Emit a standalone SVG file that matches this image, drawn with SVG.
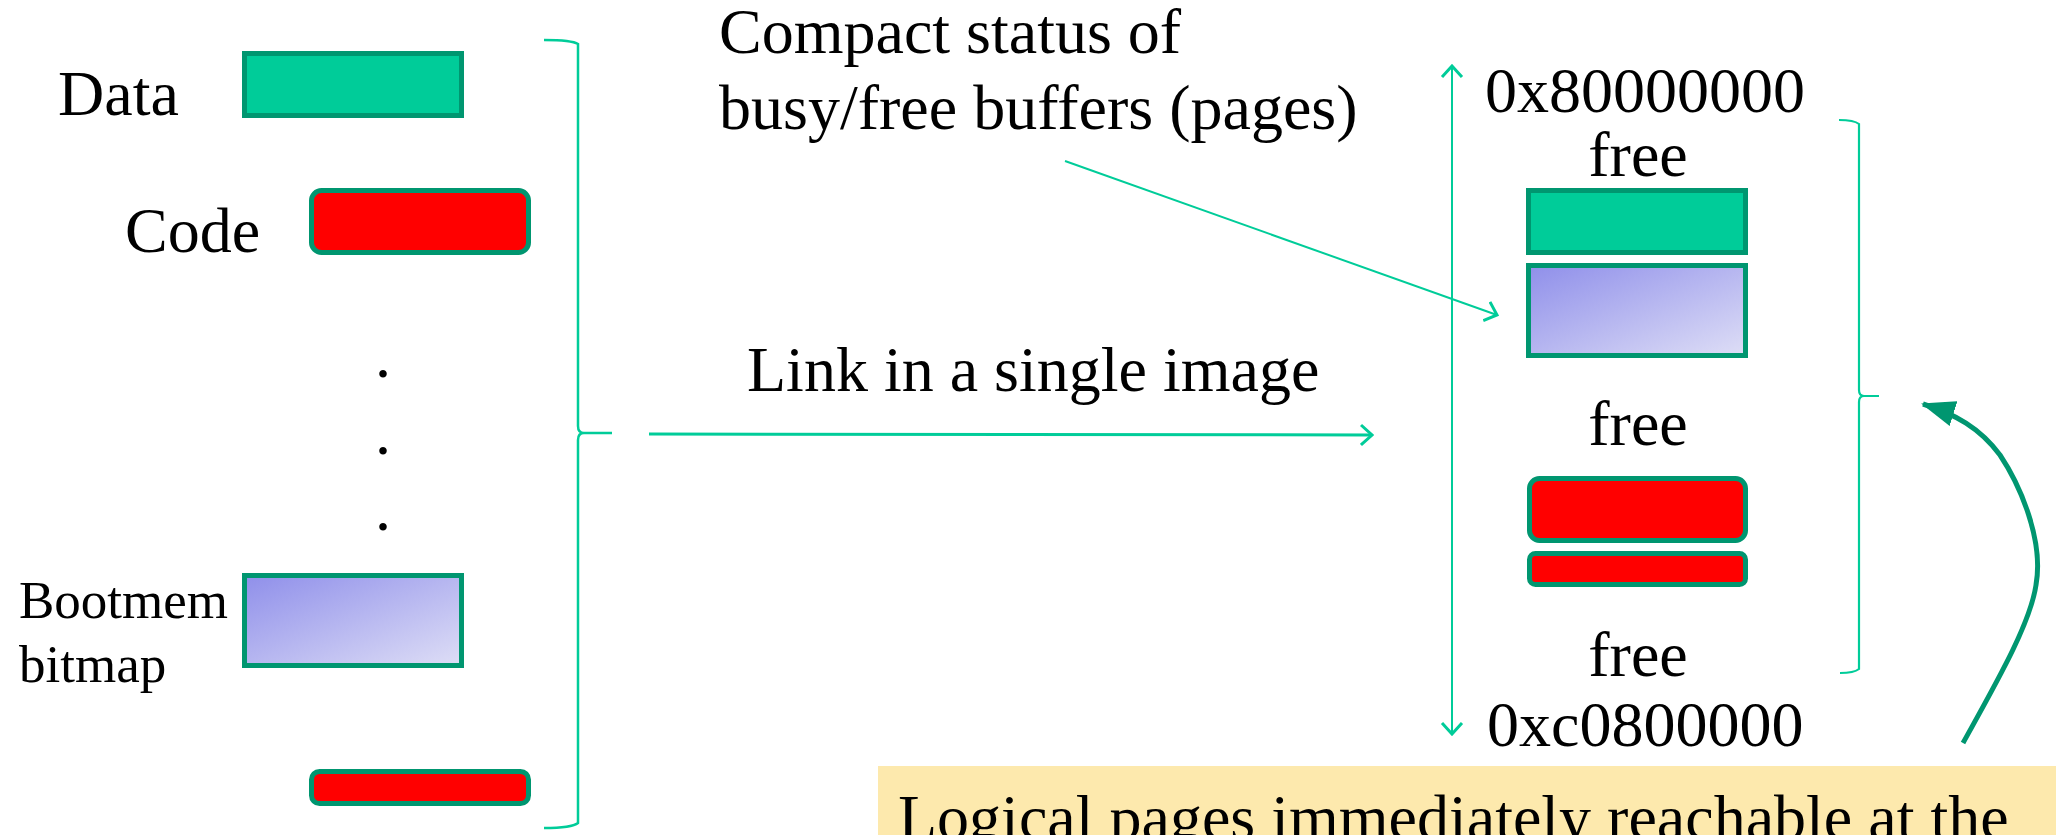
<svg xmlns="http://www.w3.org/2000/svg" width="2056" height="835" viewBox="0 0 2056 835">
  <defs>
    <linearGradient id="bm" x1="0" y1="0" x2="1" y2="1">
      <stop offset="0" stop-color="#8f8fea"/>
      <stop offset="1" stop-color="#dedef6"/>
    </linearGradient>
    <marker id="chev" viewBox="-12 -12 14 24" markerWidth="14" markerHeight="24" refX="0" refY="0" orient="auto-start-reverse" markerUnits="userSpaceOnUse">
      <path d="M-11,-10 L0,0 L-11,10" fill="none" stroke="#00cc99" stroke-width="3"/>
    </marker>
    <marker id="solid" viewBox="0 0 34 26" markerWidth="34" markerHeight="26" refX="32" refY="13" orient="auto" markerUnits="userSpaceOnUse">
      <path d="M0,0 L34,13 L0,26 Z" fill="#009670"/>
    </marker>
  </defs>
  <style>
    text { font-family: "Liberation Serif", "Times New Roman", serif; fill: #000; }
    .t64 { font-size: 64px; }
    .t53 { font-size: 53px; }
    .teal { fill: #00cc99; stroke: #009670; stroke-width: 5; }
    .red { fill: #ff0000; stroke: #009670; stroke-width: 5; }
    .grad { fill: url(#bm); stroke: #009670; stroke-width: 5; }
    .line { fill: none; stroke: #00cc99; }
  </style>
  <rect width="2056" height="835" fill="#ffffff"/>

  <g id="label-data"><text class="t64" x="58" y="115">Data</text></g>
  <g id="box-data"><rect class="teal" x="244.5" y="53.5" width="217" height="62"/></g>
  <g id="label-code"><text class="t64" x="125" y="252">Code</text></g>
  <g id="box-code"><rect class="red" x="311.5" y="190.5" width="217" height="62" rx="10"/></g>
  <g id="dots">
    <text class="t64" x="383" y="377" text-anchor="middle">.</text>
    <text class="t64" x="383" y="454" text-anchor="middle">.</text>
    <text class="t64" x="383" y="530" text-anchor="middle">.</text>
  </g>
  <g id="label-bootmem">
    <text class="t53" x="19" y="618">Bootmem</text>
    <text class="t53" x="19" y="682">bitmap</text>
  </g>
  <g id="box-bootmem"><rect class="grad" x="244.5" y="575.5" width="217" height="90"/></g>
  <g id="box-code2"><rect class="red" x="311.5" y="771.5" width="217" height="32" rx="8"/></g>

  <g id="label-compact">
    <text class="t64" x="719" y="53">Compact status of</text>
    <text class="t64" x="719" y="129">busy/free buffers (pages)</text>
  </g>
  <g id="label-link"><text class="t64" x="747" y="391">Link in a single image</text></g>

  <g id="label-top-addr"><text class="t64" x="1485" y="112">0x80000000</text></g>
  <g id="label-free1"><text class="t64" x="1638" y="176" text-anchor="middle">free</text></g>
  <g id="box-r-data"><rect class="teal" x="1528.5" y="190.5" width="217" height="62"/></g>
  <g id="box-r-bitmap"><rect class="grad" x="1528.5" y="265.5" width="217" height="90"/></g>
  <g id="label-free2"><text class="t64" x="1638" y="445" text-anchor="middle">free</text></g>
  <g id="box-r-code1"><rect class="red" x="1529.5" y="478.5" width="216" height="62" rx="10"/></g>
  <g id="box-r-code2"><rect class="red" x="1529.5" y="553.5" width="216" height="31" rx="6"/></g>
  <g id="label-free3"><text class="t64" x="1638" y="676" text-anchor="middle">free</text></g>
  <g id="label-bottom-addr"><text class="t64" x="1487" y="746">0xc0800000</text></g>

  <g id="note">
    <rect x="878" y="766" width="1178" height="69" fill="#fde9ad"/>
    <text class="t64" x="898" y="839">Logical pages immediately reachable at the</text>
  </g>

  <g id="connectors">
    <path id="brace-left" class="line" stroke-width="2.5" d="M544,40 Q572,40 578,44 L578,426 Q578,433 584,433 L612,433 M584,433 Q578,433 578,440 L578,823 Q572,828 544,828"/>
    <path id="brace-right" class="line" stroke-width="2.2" d="M1839,120 Q1854,120 1859,124 L1859,390 Q1859,396 1864,396 L1879,396 M1864,396 Q1859,396 1859,402 L1859,669 Q1854,673 1840,673"/>
    <line class="line" stroke-width="3" x1="649" y1="434" x2="1372" y2="435" marker-end="url(#chev)"/>
    <line class="line" stroke-width="2" x1="1065" y1="161" x2="1497" y2="315" marker-end="url(#chev)"/>
    <line class="line" stroke-width="2" x1="1452" y1="734" x2="1452" y2="66" marker-start="url(#chev)" marker-end="url(#chev)"/>
    <path fill="none" stroke="#009670" stroke-width="5" d="M1963,743 C1995,685 2030,625 2036,585 C2044,540 2020,485 2000,455 C1980,428 1955,414 1923,404" marker-end="url(#solid)"/>
  </g>
</svg>
